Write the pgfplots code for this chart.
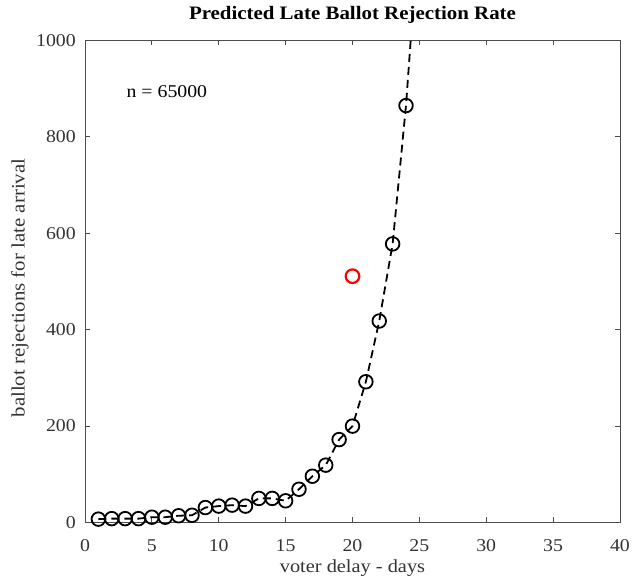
\documentclass[border=0pt]{standalone}
\usepackage{pgfplots}
\pgfplotsset{compat=1.18}
\usepackage{fontspec}
\setmainfont{Liberation Serif}[FakeStretch=1.1]
\begin{document}
\fontsize{18}{21}\selectfont
\begin{tikzpicture}
\begin{axis}[
  at={(0pt,0pt)}, anchor=south west,
  scale only axis, width=535pt, height=482pt,
  xmin=0, xmax=40, ymin=0, ymax=1000,
  xtick={0,5,...,40}, ytick={0,200,...,1000},
  tick align=inside, major tick length=5pt,
  axis line style={black!70, line width=0.9pt}, tick style={black!70, line width=0.8pt},
  /pgf/number format/assume math mode=true,
  /pgf/number format/set thousands separator={},
  ticklabel style={font=\fontsize{18}{21}\selectfont, text=black!80},
  xticklabel style={anchor=base, yshift=-29.5pt},
  yticklabel style={xshift=-3pt},
  title={\textbf{Predicted Late Ballot Rejection Rate}},
  title style={font=\fontsize{19}{22}\selectfont, at={(axis description cs:0.5,1.031)}, anchor=base},
  xlabel={voter delay - days},
  ylabel={ballot rejections for late arrival},
  xlabel style={font=\fontsize{18.5}{21}\selectfont, text=black!80, at={(axis description cs:0.5,-0.1027)}, anchor=base},
  ylabel style={font=\fontsize{19}{21}\selectfont, text=black!80, at={(axis description cs:-0.1215,0.4865)}, anchor=center},
  clip=true,
]
\addplot[black, line width=1.8pt, dash pattern=on 8pt off 5pt] coordinates {
(1,7) (2,8) (3,8) (4,8) (5,11) (6,11) (7,14) (8,15) (9,31) (10,34) (11,36) (12,34)
(13,50) (14,50) (15,45) (16,69) (17,96) (18,119) (19,172) (20,200) (21,292)
(22,418) (23,578) (24,865) (25,1250)
};
\addplot[only marks, mark=o, mark size=6.8pt, black, mark options={line width=1.8pt}] coordinates {
(1,7) (2,8) (3,8) (4,8) (5,11) (6,11) (7,14) (8,15) (9,31) (10,34) (11,36) (12,34)
(13,50) (14,50) (15,45) (16,69) (17,96) (18,119) (19,172) (20,200) (21,292)
(22,418) (23,578) (24,865)
};
\addplot[only marks, mark=o, mark size=6.8pt, red, mark options={line width=2.2pt}] coordinates {(20,511)};
\node[anchor=west, inner sep=0pt, font=\fontsize{18}{21}\selectfont] at (axis cs:3.1,893) {n = 65000};
\end{axis}
\pgfresetboundingbox
\useasboundingbox (-85pt,-55.5pt) rectangle (548pt,522.5pt);
\end{tikzpicture}
\end{document}
